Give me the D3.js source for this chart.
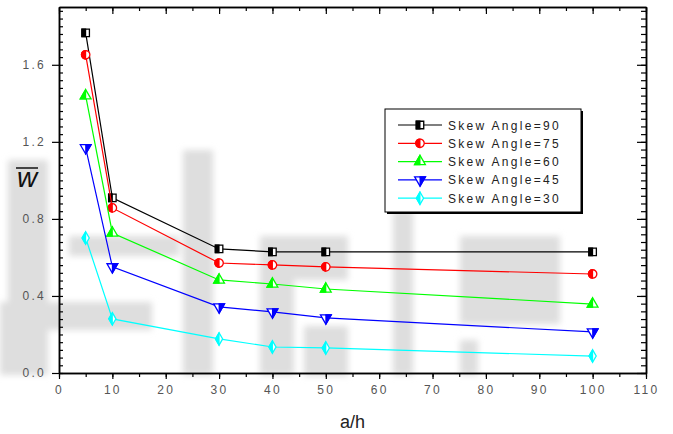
<!DOCTYPE html>
<html>
<head>
<meta charset="utf-8">
<script src="https://cdn.jsdelivr.net/npm/d3@7"></script>
<style>
  body { margin: 0; background: #fff; }
  text { font-family: "Liberation Sans", Arial, sans-serif; }
</style>
</head>
<body>
<script>
// data
const aOverH = [5, 10, 30, 40, 50, 100];
const skewAngles = ['90', '75', '60', '45', '30'];
const w90 = [1.766, 0.909, 0.644, 0.629, 0.629, 0.629];
const w75 = [1.652, 0.857, 0.571, 0.561, 0.551, 0.514];
const w60 = [1.439, 0.727, 0.483, 0.462, 0.436, 0.358];
const w45 = [1.169, 0.551, 0.343, 0.317, 0.286, 0.213];
const w30 = [0.701, 0.281, 0.177, 0.135, 0.130, 0.088];
const xTicks = [0, 10, 20, 30, 40, 50, 60, 70, 80, 90, 100, 110];
const yTicks = [0, 0.4, 0.8, 1.2, 1.6];

const seriesVals = [w90, w75, w60, w45, w30];
const colors = ['#000000', '#ff0000', '#00ff00', '#0000ff', '#00ffff'];
const shapes = ['square', 'circle', 'triangle', 'down', 'diamond'];

const [W, H] = [673, 434];
const margin = {left: 59, right: 27, top: 7, bottom: 61};

const svg = d3.select('body').append('svg')
  .attr('width', W)
  .attr('height', H);

//faint blocky watermark behind everything, [x, y, w, h]
const defs = svg.append('defs');
defs.append('filter').attr('id', 'blur')
  .append('feGaussianBlur').attr('stdDeviation', 3);
const wmBlocks = [
  [8, 160, 40, 215], [69, 236, 110, 20], [0, 302, 152, 28], [0, 330, 43, 45],
  [183, 150, 30, 225], [260, 236, 88, 44], [260, 280, 34, 95], [304, 326, 44, 50],
  [393, 210, 20, 165], [460, 236, 100, 88], [460, 340, 18, 35]
];
const wm = svg.append('g').attr('filter', 'url(#blur)');
wmBlocks.forEach(b => {
  wm.append('rect')
    .attr('x', b[0]).attr('y', b[1])
    .attr('width', b[2]).attr('height', b[3])
    .attr('fill', '#dedede');
});

const xScale = d3.scaleLinear()
  .domain([0, 110])
  .range([margin.left, W - margin.right]);
const yScale = d3.scaleLinear()
  .domain([0, 1.9])
  .range([H - margin.bottom, margin.top]);

const yMinor = d3.range(0, 1.9, 0.04);
const xMinor = d3.range(0, 111, 5);

function styleAxis(g) {
  g.select('.domain').attr('stroke-width', 1.5);
  g.selectAll('.tick line').attr('stroke-width', 1.2);
  g.selectAll('.tick text')
    .attr('font-size', 12)
    .attr('fill', '#555')
    .attr('letter-spacing', 2.3)
    .attr('font-family', '"Liberation Sans", Arial, sans-serif');
}

// minor ticks first
svg.append('g')
  .attr('transform', `translate(${margin.left},0)`)
  .call(d3.axisLeft(yScale).tickValues(yMinor).tickSize(-4).tickSizeOuter(0).tickFormat(''))
  .call(styleAxis);
svg.append('g')
  .attr('transform', `translate(${W - margin.right},0)`)
  .call(d3.axisRight(yScale).tickValues(yMinor).tickSize(-5).tickSizeOuter(0).tickFormat(''))
  .call(styleAxis);
svg.append('g')
  .attr('transform', `translate(0,${H - margin.bottom})`)
  .call(d3.axisBottom(xScale).tickValues(xMinor).tickSize(4).tickSizeOuter(0).tickFormat(''))
  .call(styleAxis);
svg.append('g')
  .attr('transform', `translate(0,${margin.top})`)
  .call(d3.axisTop(xScale).tickValues(xMinor).tickSize(-4).tickSizeOuter(0).tickFormat(''))
  .call(styleAxis);

// major ticks with labels
svg.append('g')
  .attr('transform', `translate(${margin.left},0)`)
  .call(d3.axisLeft(yScale).tickValues(yTicks).tickSize(7).tickPadding(6).tickSizeOuter(0).tickFormat(d3.format('.1f')))
  .call(styleAxis);
svg.append('g')
  .attr('transform', `translate(${W - margin.right},0)`)
  .call(d3.axisRight(yScale).tickValues(yTicks).tickSize(-9).tickSizeOuter(0).tickFormat(''))
  .call(styleAxis);
svg.append('g')
  .attr('transform', `translate(0,${H - margin.bottom})`)
  .call(d3.axisBottom(xScale).tickValues(xTicks).tickSize(6).tickPadding(6).tickSizeOuter(0).tickFormat(d3.format('d')))
  .call(styleAxis);
svg.append('g')
  .attr('transform', `translate(0,${margin.top})`)
  .call(d3.axisTop(xScale).tickValues(xTicks).tickSize(-7).tickSizeOuter(0).tickFormat(''))
  .call(styleAxis);

// axis titles
svg.append('text')
  .attr('x', xScale(55))
  .attr('y', 428)
  .attr('text-anchor', 'middle')
  .attr('font-size', 18)
  .attr('fill', '#222')
  .text('a/h');

svg.append('text')
  .attr('x', 27)
  .attr('y', 187)
  .attr('text-anchor', 'middle')
  .attr('font-size', 28)
  .attr('font-style', 'italic')
  .attr('font-family', '"Liberation Serif", "Times New Roman", serif')
  .attr('fill', '#111')
  .text('w');
svg.append('line')
  .attr('x1', 16).attr('x2', 38)
  .attr('y1', 168).attr('y2', 168)
  .attr('stroke', '#111')
  .attr('stroke-width', 1.5);

// half-filled markers
defs.append('clipPath').attr('id', 'lefthalf')
  .append('rect')
  .attr('x', -10).attr('y', -10)
  .attr('width', 10.5).attr('height', 20);

const symbolFor = {
  square: d3.symbol(d3.symbolSquare, 56),
  circle: d3.symbol(d3.symbolCircle, 56),
  triangle: d3.symbol(d3.symbolTriangle, 50),
  down: d3.symbol(d3.symbolTriangle, 50),
  diamond: d3.symbol(d3.symbolDiamond, 44)
};

function drawMarker(g, shape, color) {
  const rot = shape === 'down' ? 'rotate(180)' : '';
  const path = symbolFor[shape]();
  g.append('path')
    .attr('d', path)
    .attr('transform', rot)
    .attr('fill', '#fff')
    .attr('stroke', color)
    .attr('stroke-width', 1.3);
  g.append('path')
    .attr('d', path)
    .attr('transform', rot)
    .attr('fill', color)
    .attr('stroke', color)
    .attr('stroke-width', 1.3)
    .attr('clip-path', 'url(#lefthalf)');
}

const line = d3.line()
  .x(d => xScale(d[0]))
  .y(d => yScale(d[1]));

seriesVals.forEach((vals, i) => {
  const pts = aOverH.map((x, j) => [x, vals[j]]);
  svg.append('path')
    .datum(pts)
    .attr('d', line)
    .attr('fill', 'none')
    .attr('stroke', colors[i])
    .attr('stroke-width', 1.2);
  pts.forEach(p => {
    const g = svg.append('g')
      .attr('transform', `translate(${xScale(p[0])},${yScale(p[1])})`);
    drawMarker(g, shapes[i], colors[i]);
  });
});

// legend
const legend = svg.append('g').attr('transform', 'translate(385,109)');
legend.append('rect')
  .attr('x', 2).attr('y', 2)
  .attr('width', 196).attr('height', 103)
  .attr('fill', '#000');
legend.append('rect')
  .attr('x', 0).attr('y', 0)
  .attr('width', 196).attr('height', 103)
  .attr('fill', '#fff')
  .attr('stroke', '#000')
  .attr('stroke-width', 1);

skewAngles.forEach((a, i) => {
  const y = 16 + i * 18.3;
  legend.append('line')
    .attr('x1', 13).attr('x2', 57)
    .attr('y1', y).attr('y2', y)
    .attr('stroke', colors[i])
    .attr('stroke-width', 1.2);
  const g = legend.append('g').attr('transform', `translate(35,${y})`);
  drawMarker(g, shapes[i], colors[i]);
  legend.append('text')
    .attr('x', 63)
    .attr('y', y + 4.5)
    .attr('font-size', 12)
    .attr('letter-spacing', 2.3)
    .attr('fill', '#222')
    .text(`Skew Angle=${a}`);
});
</script>
</body>
</html>
